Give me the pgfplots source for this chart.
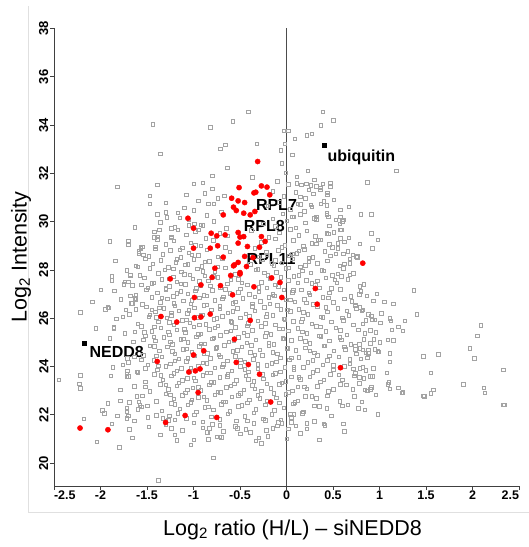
\documentclass[border=0pt]{standalone}
\usepackage{fontspec}
\setmainfont{Liberation Sans}
\usepackage{pgfplots}
\pgfplotsset{compat=1.18}
\begin{document}
\begin{tikzpicture}
\useasboundingbox (0,0) rectangle (529bp,547bp);
\draw[black!12, line width=0.8bp] (28bp,541bp) -- (28bp,35bp) -- (529bp,35bp);
\begin{axis}[
  at={(54bp,61bp)}, anchor=south west,
  scale only axis, width=465bp, height=457.5bp,
  xmin=-2.5, xmax=2.5, ymin=19.05, ymax=38,
  axis lines=left, axis line style={-, black!75, line width=0.8bp},
  tick align=outside, major tick length=4bp,
  tick style={black!75, line width=0.7bp},
  xtick={-2.5,-2,-1.5,-1,-0.5,0,0.5,1,1.5,2,2.5},
  xticklabels={\rlap{\textbf{-2.5}},\textbf{-2},\textbf{-1.5},\textbf{-1},\textbf{-0.5},\textbf{0},\textbf{0.5},\textbf{1},\textbf{1.5},\textbf{2},\llap{\textbf{2.5}}},
  ytick={20,22,24,26,28,30,32,34,36,38},
  yticklabels={\textbf{20},\textbf{22},\textbf{24},\textbf{26},\textbf{28},\textbf{30},\textbf{32},\textbf{34},\textbf{36},\textbf{38}},
  tick label style={font=\fontsize{12.5bp}{14bp}\selectfont},
  yticklabel style={font=\fontsize{13bp}{14bp}\selectfont, rotate=90, anchor=south, inner sep=1.5bp},
  xticklabel style={font=\fontsize{12.5bp}{14bp}\selectfont, anchor=north, inner sep=1bp},
  clip=false,
]
% grey proteins
\addplot[only marks, mark=square, mark size=1.75bp, mark options={draw=black!36, line width=0.45bp}] coordinates {
(-1.44,34.04) (-1.36,32.82) (-1.82,31.45) (-1.39,31.52) (-1.47,31.08) (-1.47,30.75) (-1.08,31.11) (-0.90,31.62) (-1.29,30.19) (-1.17,30.36) (-1.63,29.76) (-1.37,29.67) (-1.24,29.73) (-1.05,29.86) (-0.92,29.87) (-0.95,29.67) (-1.90,29.18) (-1.70,29.07) (-1.57,28.93) (-1.41,28.97) (-1.39,29.38) (-1.24,29.33)
(-0.41,34.56) (-0.58,34.15) (-0.82,33.91) (-0.32,33.22) (-0.66,33.18) (-0.71,33.03) (-0.64,32.24) (-0.80,31.91) (-0.37,31.83) (-0.84,30.74) (-0.78,30.74) (-0.67,31.07) (-1.39,30.31) (-0.99,29.91) (-1.42,29.36) (-1.57,28.90) (-1.59,28.70) (-1.88,27.73) (-1.68,27.78)
(0.39,34.56) (0.50,34.21) (0.37,34.0) (-0.03,33.76) (0.02,33.76) (0.22,33.57) (0.27,33.64) (0.09,33.44) (-0.02,33.22) (-0.06,32.96) (0.06,32.77) (-0.05,32.42) (1.18,32.1) (0.23,32.1) (-0.01,32.03) (0.11,31.87) (0.30,31.73) (0.02,31.55) (0.16,31.52) (0.21,31.57) (0.26,31.5) (0.39,31.57) (0.87,31.64) (0.24,31.32) (0.29,31.15) (0.15,31.04) (0.20,30.97) (0.51,30.9) (0.12,30.74) (0.26,30.70) (0.37,30.74) (0.43,30.68) (0.67,30.62) (0.80,30.31) (0.91,30.31) (0.91,29.52) (0.98,29.26) (0.92,28.89)
(0.15,30.31) (0.06,30.21) (0.32,30.21) (0.43,30.28) (0.45,30.21) (0.53,30.07) (0.58,30.21) (0.61,30.07) (0.57,29.91) (0.36,31.4) (0.44,31.2) (0.47,31.45) (0.11,31.6)
(0.51,29.57) (0.59,29.66) (0.43,29.52) (0.34,29.25) (0.46,29.07) (0.55,29.11) (0.58,29.32) (0.71,28.63) (0.76,28.56) (0.61,28.67) (0.68,28.28) (0.59,27.73) (0.68,27.8) (0.52,27.59)
(-2.18,21.83) (-2.04,20.89) (-1.98,22.18) (-1.96,22.07) (-1.92,22.48) (-1.88,21.63) (-1.82,21.97) (-1.80,20.65) (-1.66,21.05) (-1.69,21.41) (-1.49,21.9) (-1.48,21.5) (-1.36,21.18) (-1.03,20.76) (-0.79,20.23) (-0.84,20.98) (-0.75,21.1) (-0.72,21.1) (-0.27,20.83) (-0.30,21.04) (-0.15,21.45) (0.02,21.42) (0.1,21.54) (0.35,20.97) (0.4,21.63) (0.41,21.56) (0.61,21.63) (0.62,21.31) (0.22,21.66) (0.98,22.03) (0.04,22.03) (0.08,22.03) (1.48,22.76) (2.33,22.41)
(-1.79,22.58) (-1.72,22.28) (-1.69,22.53) (-1.70,21.96) (-1.64,21.76) (-1.60,22.24) (-1.58,22.39) (-1.33,21.86) (-1.30,21.76) (-1.26,21.97) (-1.24,21.45) (-1.20,21.79) (-1.18,20.94) (-1.38,19.28)
(-0.86,21.28) (-0.83,21.45) (-0.72,21.56) (-0.53,21.45) (-0.42,21.75) (-0.39,21.28) (-0.23,21.78) (-0.09,21.7) (-0.05,21.66)
(-2.45,23.45) (-2.22,23.64) (-2.22,23.1) (-2.22,26.24) (-2.09,26.68) (-1.89,23.61) (-1.91,26.44) (-1.86,25.63) (-1.79,23.03) (-1.75,27.4) (-1.68,26.94) (-1.66,26.62) (-1.70,23.59) (-1.71,23.83) (-1.72,22.14) (-1.72,21.86) (-1.61,22.76) (-1.59,22.55) (-1.56,22.34) (-1.63,26.83) (-2.23,23.28)
(-1.85,27.13) (-1.92,26.46) (-1.86,25.59) (-1.74,27.52) (-1.68,27.8) (-1.67,26.63) (-1.62,26.79) (-1.73,26.35) (-1.76,26.07) (-1.62,26.38) (-1.63,25.45) (-1.53,25.41) (-1.54,25.11)
(-1.71,24.35) (-1.64,24.41) (-1.56,24.28) (-1.61,23.79) (-1.52,23.93) (-1.76,24.07) (-1.72,23.7) (-1.52,23.17) (-1.45,26.35) (-1.47,26.14) (-1.51,27.18) (-1.45,27.45) (-1.56,27.38) (-1.6,28.14) (-1.54,28.63) (-1.70,27.52)
(0.76,28.53) (0.83,27.41) (1.37,27.15) (0.78,26.99) (0.86,26.93) (1.05,26.69) (0.74,26.55) (0.75,26.4) (0.79,26.45) (0.82,26.35) (1.40,26.17) (0.88,26.17) (1.11,26.0) (1.12,25.9) (0.92,25.93) (1.27,25.9) (2.09,25.7) (0.9,25.51) (1.13,25.52) (1.25,25.49) (2.05,25.28) (0.94,25.13) (1.09,25.1) (1.15,25.08) (0.74,24.85) (0.78,24.92) (0.74,24.72) (0.79,24.75) (0.82,24.7) (0.88,24.7) (1.97,24.75) (0.85,24.58) (0.88,24.54) (0.98,24.64) (1.11,24.54) (1.63,24.51) (1.47,24.43) (0.87,24.37) (2.02,24.35) (1.11,24.19) (0.82,23.98) (0.79,23.92) (0.85,23.85) (2.33,23.86) (1.08,23.75) (1.55,23.75) (0.78,23.56) (0.92,23.59) (0.78,23.3) (1.09,23.26) (1.90,23.26) (2.12,23.13) (2.13,22.92) (1.58,23.03) (1.55,22.9) (1.24,22.92) (1.47,22.79) (0.96,22.84) (2.34,22.41)
(1.2,23.13) (1.11,23.08) (0.87,23.0) (0.90,23.06) (0.91,26.1) (0.95,25.93) (0.99,24.62) (1.1,23.34) (1.25,22.94) (0.84,22.21) (0.77,22.28) (0.81,22.55) (0.66,22.41) (0.73,22.76) (0.84,23.03) (0.91,23.15) (0.9,23.59)
(-1.2,21.18) (-1.0,20.97) (-0.85,21.27) (-0.7,21.06) (-0.5,21.21) (-0.33,20.92) (-0.2,21.12) (0.0,21.01) (0.15,21.24)
(-1.3,21.58) (-1.12,21.37) (-1.0,21.67) (-0.9,21.46) (-0.8,21.61) (-0.68,21.32) (-0.55,21.52) (-0.44,21.41) (-0.35,21.64) (-0.22,21.35) (-0.1,21.55) (0.05,21.69) (0.22,21.43) (0.4,21.62)
(-1.4,21.98) (-1.27,21.77) (-1.17,22.07) (-1.08,21.86) (-0.99,22.01) (-0.9,21.72) (-0.81,21.92) (-0.72,21.81) (-0.63,22.04) (-0.54,21.75) (-0.45,21.95) (-0.35,22.09) (-0.25,21.83) (-0.16,22.02) (-0.06,21.79) (0.05,21.9) (0.17,22.06) (0.3,21.73) (0.48,21.97)
(-1.5,22.38) (-1.34,22.17) (-1.24,22.47) (-1.15,22.26) (-1.06,22.41) (-0.97,22.12) (-0.88,22.32) (-0.79,22.21) (-0.7,22.44) (-0.61,22.15) (-0.52,22.35) (-0.42,22.49) (-0.33,22.23) (-0.23,22.42) (-0.13,22.19) (-0.03,22.3) (0.07,22.46) (0.18,22.13) (0.3,22.37) (0.43,22.28) (0.6,22.38)
(-1.55,22.78) (-1.4,22.57) (-1.3,22.87) (-1.21,22.66) (-1.12,22.81) (-1.03,22.52) (-0.95,22.72) (-0.86,22.61) (-0.77,22.84) (-0.68,22.55) (-0.59,22.75) (-0.5,22.89) (-0.4,22.63) (-0.31,22.82) (-0.21,22.59) (-0.11,22.7) (-0.01,22.86) (0.09,22.53) (0.2,22.77) (0.32,22.68) (0.44,22.78) (0.57,22.57)
(-1.64,23.18) (-1.47,22.97) (-1.36,23.27) (-1.27,23.06) (-1.18,23.21) (-1.09,22.92) (-1.01,23.12) (-0.92,23.01) (-0.83,23.24) (-0.74,22.95) (-0.65,23.15) (-0.56,23.29) (-0.46,23.03) (-0.37,23.22) (-0.27,22.99) (-0.17,23.1) (-0.08,23.26) (0.02,22.93) (0.12,23.17) (0.22,23.08) (0.33,23.18) (0.45,22.97) (0.58,23.27) (0.71,23.06)
(-1.72,23.58) (-1.52,23.37) (-1.42,23.67) (-1.33,23.46) (-1.24,23.61) (-1.16,23.32) (-1.07,23.52) (-0.98,23.41) (-0.9,23.64) (-0.81,23.35) (-0.72,23.55) (-0.63,23.69) (-0.54,23.43) (-0.44,23.62) (-0.35,23.39) (-0.25,23.5) (-0.15,23.66) (-0.05,23.33) (0.05,23.57) (0.15,23.48) (0.25,23.58) (0.36,23.37) (0.47,23.67) (0.6,23.46) (0.73,23.61)
(-1.87,23.98) (-1.6,23.77) (-1.49,24.07) (-1.39,23.86) (-1.3,24.01) (-1.21,23.72) (-1.13,23.92) (-1.04,23.81) (-0.95,24.04) (-0.86,23.75) (-0.77,23.95) (-0.68,24.09) (-0.59,23.83) (-0.5,24.02) (-0.41,23.79) (-0.31,23.9) (-0.21,24.06) (-0.12,23.73) (-0.02,23.97) (0.08,23.88) (0.18,23.98) (0.28,23.77) (0.39,24.07) (0.5,23.86) (0.62,24.01) (0.74,23.72) (0.93,23.92)
(-1.7,24.17) (-1.54,24.47) (-1.43,24.26) (-1.34,24.41) (-1.25,24.12) (-1.16,24.32) (-1.08,24.21) (-0.99,24.44) (-0.9,24.15) (-0.82,24.35) (-0.73,24.49) (-0.64,24.23) (-0.55,24.42) (-0.45,24.19) (-0.36,24.3) (-0.26,24.46) (-0.16,24.13) (-0.07,24.37) (0.03,24.28) (0.13,24.38) (0.23,24.17) (0.33,24.47) (0.44,24.26) (0.56,24.41) (0.68,24.12) (0.8,24.32)
(-1.47,24.87) (-1.37,24.66) (-1.28,24.81) (-1.2,24.52) (-1.11,24.72) (-1.02,24.61) (-0.94,24.84) (-0.85,24.55) (-0.76,24.75) (-0.67,24.89) (-0.58,24.63) (-0.48,24.82) (-0.39,24.59) (-0.29,24.7) (-0.19,24.86) (-0.1,24.53) (0.0,24.77) (0.1,24.68) (0.2,24.78) (0.3,24.57) (0.4,24.87) (0.51,24.66) (0.62,24.81) (0.75,24.52) (0.95,24.72)
(-1.9,25.18) (-1.65,25.02) (-1.52,25.27) (-1.41,25.06) (-1.32,25.21) (-1.23,24.92) (-1.14,25.12) (-1.06,25.01) (-0.97,25.24) (-0.88,24.95) (-0.8,25.15) (-0.71,25.29) (-0.62,25.03) (-0.52,25.22) (-0.43,24.99) (-0.33,25.1) (-0.23,25.26) (-0.14,24.93) (-0.04,25.17) (0.05,25.08) (0.15,25.18) (0.25,24.97) (0.35,25.27) (0.46,25.06) (0.57,25.21) (0.69,24.92) (0.83,25.12) (1.0,25.01)
(-2.05,25.58) (-1.74,25.37) (-1.56,25.67) (-1.45,25.46) (-1.35,25.61) (-1.26,25.32) (-1.18,25.52) (-1.09,25.41) (-1.0,25.64) (-0.92,25.35) (-0.83,25.55) (-0.74,25.69) (-0.65,25.43) (-0.55,25.62) (-0.46,25.39) (-0.37,25.5) (-0.27,25.66) (-0.17,25.33) (-0.08,25.57) (0.02,25.48) (0.12,25.58) (0.22,25.37) (0.32,25.67) (0.42,25.46) (0.53,25.61) (0.65,25.32) (0.77,25.52) (0.96,25.41) (1.2,25.64)
(-1.83,25.98) (-1.6,25.77) (-1.48,26.07) (-1.38,25.86) (-1.29,26.01) (-1.21,25.72) (-1.12,25.92) (-1.04,25.81) (-0.95,26.04) (-0.87,25.75) (-0.78,25.95) (-0.69,26.09) (-0.59,25.83) (-0.5,26.02) (-0.41,25.79) (-0.31,25.9) (-0.22,26.06) (-0.12,25.73) (-0.03,25.97) (0.07,25.88) (0.17,25.98) (0.27,25.77) (0.37,26.07) (0.48,25.86) (0.6,26.01) (0.72,25.72) (0.85,25.92) (1.01,25.81)
(-1.95,26.38) (-1.69,26.17) (-1.51,26.47) (-1.41,26.26) (-1.32,26.41) (-1.24,26.12) (-1.16,26.32) (-1.07,26.21) (-0.99,26.44) (-0.9,26.15) (-0.81,26.35) (-0.72,26.49) (-0.63,26.23) (-0.53,26.42) (-0.44,26.19) (-0.34,26.3) (-0.24,26.46) (-0.15,26.13) (-0.06,26.37) (0.04,26.28) (0.13,26.38) (0.23,26.17) (0.33,26.47) (0.44,26.26) (0.55,26.41) (0.67,26.12) (0.81,26.32) (1.02,26.21)
(-1.78,26.78) (-1.55,26.57) (-1.45,26.87) (-1.36,26.66) (-1.28,26.81) (-1.2,26.52) (-1.11,26.72) (-1.03,26.61) (-0.94,26.84) (-0.86,26.55) (-0.77,26.75) (-0.68,26.89) (-0.58,26.63) (-0.47,26.82) (-0.37,26.59) (-0.28,26.7) (-0.19,26.86) (-0.1,26.53) (-0.01,26.77) (0.09,26.68) (0.19,26.78) (0.29,26.57) (0.39,26.87) (0.5,26.66) (0.62,26.81) (0.74,26.52) (0.93,26.72) (1.15,26.61)
(-2.0,27.18) (-1.62,26.97) (-1.49,27.27) (-1.39,27.06) (-1.3,27.21) (-1.22,26.92) (-1.14,27.12) (-1.06,27.01) (-0.97,27.24) (-0.89,26.95) (-0.8,27.15) (-0.71,27.29) (-0.61,27.03) (-0.5,27.22) (-0.4,26.99) (-0.3,27.1) (-0.21,27.26) (-0.13,26.93) (-0.03,27.17) (0.06,27.08) (0.16,27.18) (0.25,26.97) (0.35,27.27) (0.46,27.06) (0.58,27.21) (0.69,26.92) (0.8,27.12) (0.97,27.01)
(-1.88,27.58) (-1.66,27.37) (-1.53,27.67) (-1.43,27.46) (-1.34,27.61) (-1.26,27.32) (-1.18,27.52) (-1.09,27.41) (-1.01,27.64) (-0.93,27.35) (-0.84,27.55) (-0.74,27.69) (-0.64,27.43) (-0.52,27.62) (-0.42,27.39) (-0.27,27.5) (-0.18,27.66) (-0.09,27.33) (0.02,27.57) (0.12,27.48) (0.21,27.58) (0.31,27.37) (0.42,27.67) (0.54,27.46) (0.66,27.61) (0.79,27.32)
(-1.72,27.98) (-1.58,27.77) (-1.47,28.07) (-1.38,27.86) (-1.31,28.01) (-1.22,27.72) (-1.13,27.92) (-1.04,27.81) (-0.96,28.04) (-0.88,27.75) (-0.77,27.95) (-0.66,28.09) (-0.55,27.83) (-0.31,28.02) (-0.2,27.79) (-0.11,27.9) (-0.01,28.06) (0.08,27.73) (0.17,27.97) (0.26,27.88) (0.38,27.98) (0.49,27.77) (0.61,28.07) (0.72,27.86)
(-1.84,28.38) (-1.62,28.17) (-1.52,28.47) (-1.44,28.26) (-1.35,28.41) (-1.27,28.12) (-1.19,28.32) (-1.09,28.21) (-1.0,28.44) (-0.91,28.15) (-0.83,28.35) (-0.69,28.49) (-0.39,28.23) (-0.26,28.42) (-0.14,28.19) (-0.05,28.3) (0.06,28.46) (0.15,28.13) (0.24,28.37) (0.33,28.28) (0.44,28.38) (0.57,28.17) (0.68,28.47)
(-1.59,28.78) (-1.48,28.57) (-1.41,28.87) (-1.33,28.66) (-1.25,28.81) (-1.14,28.52) (-1.05,28.72) (-0.95,28.61) (-0.86,28.84) (-0.74,28.55) (-0.61,28.75) (-0.34,28.89) (-0.21,28.63) (-0.09,28.82) (0.03,28.59) (0.11,28.7) (0.19,28.86) (0.28,28.53) (0.41,28.77) (0.53,28.68) (0.66,28.78) (0.75,28.57)
(-1.7,29.18) (-1.55,28.97) (-1.39,29.27) (-1.3,29.06) (-1.21,29.21) (-1.12,28.92) (-1.03,29.12) (-0.92,29.01) (-0.79,29.24) (-0.66,28.95) (-0.27,29.15) (-0.12,29.29) (-0.02,29.03) (0.07,29.22) (0.18,28.99) (0.27,29.1) (0.36,29.26) (0.49,28.93) (0.62,29.17) (0.79,29.08)
(-1.42,29.58) (-1.24,29.37) (-1.17,29.67) (-1.08,29.46) (-0.98,29.61) (-0.87,29.32) (-0.72,29.52) (-0.63,29.41) (-0.38,29.64) (-0.19,29.35) (-0.08,29.55) (0.04,29.69) (0.13,29.43) (0.22,29.62) (0.31,29.39) (0.45,29.5) (0.58,29.66) (0.67,29.33)
(-1.36,29.98) (-1.2,29.77) (-1.05,30.07) (-0.9,29.86) (-0.78,30.01) (-0.65,29.72) (-0.25,29.92) (-0.12,29.81) (0.0,30.04) (0.1,29.75) (0.2,29.95) (0.32,30.09) (0.46,29.83) (0.6,30.02)
(-1.3,30.38) (-1.15,30.17) (-1.0,30.47) (-0.86,30.26) (-0.7,30.41) (-0.15,30.12) (-0.04,30.32) (0.08,30.21) (0.19,30.44) (0.3,30.15) (0.43,30.35) (0.58,30.49)
(-1.3,30.78) (-1.1,30.57) (-0.95,30.87) (-0.2,30.66) (-0.08,30.81) (0.04,30.52) (0.15,30.72) (0.27,30.61) (0.4,30.84)
(-0.88,31.18) (-0.74,30.97) (-0.15,31.27) (-0.03,31.06) (0.1,31.21) (0.36,31.32) (0.44,31.12)
(-1.0,31.58) (-0.8,31.37) (-0.1,31.67) (0.32,31.46) (0.47,31.61)
(-1.2,22.44) (-1.02,22.63) (-0.84,22.34) (-0.66,22.54) (-0.48,22.4) (-0.29,22.68) (-0.08,22.49) (0.12,22.59) (0.35,22.36)
(-1.25,22.84) (-1.07,23.03) (-0.89,22.74) (-0.71,22.94) (-0.52,22.8) (-0.34,23.08) (-0.14,22.89) (0.06,22.99) (0.27,22.76) (0.5,23.05)
(-1.3,23.24) (-1.12,23.43) (-0.95,23.14) (-0.78,23.34) (-0.6,23.2) (-0.41,23.48) (-0.21,23.29) (-0.01,23.39) (0.19,23.16) (0.4,23.45) (0.64,23.25)
(-1.35,23.64) (-1.18,23.83) (-1.0,23.54) (-0.82,23.74) (-0.64,23.6) (-0.45,23.88) (-0.26,23.69) (-0.07,23.79) (0.13,23.56) (0.33,23.85) (0.56,23.65) (0.83,23.51)
(-1.38,24.04) (-1.2,24.23) (-1.03,23.94) (-0.86,24.14) (-0.69,24.0) (-0.5,24.28) (-0.31,24.09) (-0.11,24.19) (0.08,23.96) (0.28,24.25) (0.5,24.05) (0.72,23.91)
(-1.4,24.44) (-1.23,24.63) (-1.06,24.34) (-0.89,24.54) (-0.71,24.4) (-0.53,24.68) (-0.34,24.49) (-0.15,24.59) (0.05,24.36) (0.25,24.65) (0.46,24.45) (0.68,24.31) (0.88,24.57)
(-1.42,24.84) (-1.25,25.03) (-1.08,24.74) (-0.92,24.94) (-0.75,24.8) (-0.57,25.08) (-0.38,24.89) (-0.19,24.99) (0.01,24.76) (0.2,25.05) (0.41,24.85) (0.63,24.71) (0.9,24.97)
(-1.43,25.24) (-1.27,25.43) (-1.11,25.14) (-0.95,25.34) (-0.78,25.2) (-0.6,25.48) (-0.42,25.29) (-0.22,25.39) (-0.03,25.16) (0.17,25.45) (0.37,25.25) (0.59,25.11) (0.84,25.37)
(-1.42,25.64) (-1.26,25.83) (-1.1,25.54) (-0.94,25.74) (-0.77,25.6) (-0.6,25.88) (-0.42,25.69) (-0.23,25.79) (-0.04,25.56) (0.16,25.85) (0.36,25.65) (0.58,25.51) (0.82,25.77)
(-1.4,26.04) (-1.24,26.23) (-1.08,25.94) (-0.92,26.14) (-0.75,26.0) (-0.58,26.28) (-0.4,26.09) (-0.21,26.19) (-0.02,25.96) (0.18,26.25) (0.39,26.05) (0.61,25.91) (0.88,26.17)
(-1.37,26.44) (-1.21,26.63) (-1.05,26.34) (-0.89,26.54) (-0.72,26.4) (-0.55,26.68) (-0.37,26.49) (-0.18,26.59) (0.01,26.36) (0.21,26.65) (0.42,26.45) (0.65,26.31)
(-1.34,26.84) (-1.18,27.03) (-1.02,26.74) (-0.86,26.94) (-0.69,26.8) (-0.52,27.08) (-0.34,26.89) (-0.15,26.99) (0.04,26.76) (0.24,27.05) (0.45,26.85) (0.7,26.71)
(-1.3,27.24) (-1.14,27.43) (-0.98,27.14) (-0.82,27.34) (-0.66,27.2) (-0.48,27.48) (-0.3,27.29) (-0.12,27.39) (0.07,27.16) (0.27,27.45) (0.48,27.25)
(-1.26,27.64) (-1.1,27.83) (-0.94,27.54) (-0.79,27.74) (-0.6,27.6) (-0.24,27.88) (-0.06,27.69) (0.13,27.79) (0.33,27.56) (0.55,27.85)
(-1.22,28.04) (-1.06,28.23) (-0.9,27.94) (-0.74,28.14) (-0.33,28.0) (-0.16,28.28) (0.02,28.09) (0.2,28.19) (0.4,27.96) (0.62,28.25)
(-1.18,28.44) (-1.02,28.63) (-0.88,28.34) (-0.3,28.54) (-0.12,28.4) (0.06,28.68) (0.24,28.49) (0.47,28.59)
(-1.15,28.84) (-0.98,29.03) (-0.22,28.74) (-0.05,28.94) (0.13,28.8) (0.32,29.08) (0.55,28.89)
};
% zero line
\addplot[black!70, line width=0.8bp] coordinates {(0,19.05) (0,38)};
% ribosomal proteins
\addplot[only marks, mark=*, mark size=2.6bp, mark options={draw=red, fill=red}] coordinates {
(-2.22,21.45) (-1.92,21.38) (-1.30,21.68) (-1.09,21.97) (-0.75,21.89) (-0.95,22.92) (-1.05,23.77) (-0.98,23.82) (-0.93,23.90) (-1.00,24.48) (-0.89,24.65) (-1.39,24.21) (-0.54,24.17) (-0.41,24.08) (-0.29,23.68) (-0.56,25.13) (-1.35,26.07) (-1.18,25.84) (-0.99,26.02) (-0.92,26.05) (-0.82,26.17) (-0.39,25.91) (-0.99,26.86) (-0.58,26.97) (-0.92,27.38) (-0.71,27.35) (-0.35,27.30) (-1.25,27.63) (-0.80,27.69) (-0.60,27.77) (-0.50,27.83) (-0.16,27.67) (-0.07,27.48) (-0.05,26.86) (0.31,27.23) (0.33,26.58) (0.58,23.95) (-0.17,22.53) (0.82,28.28)
(-0.77,28.07) (-0.57,28.17) (-0.56,28.21) (-0.52,28.31) (-0.45,28.56) (-0.68,28.53)
(-0.31,32.49) (-0.51,31.41) (-0.27,31.48) (-0.21,31.43) (-0.35,31.19) (-0.33,31.22) (-0.18,31.11) (-0.59,30.97) (-0.52,30.86) (-0.45,30.79) (-0.57,30.60) (-0.54,30.46) (-0.46,30.35) (-0.39,30.28) (-0.34,30.42) (-0.68,30.28) (-1.06,30.14) (-1.00,29.73) (-0.81,29.52) (-0.66,29.45) (-0.52,29.55) (-0.50,29.36) (-0.46,29.38) (-0.27,29.38) (-0.23,29.18) (-0.52,29.11) (-0.42,28.97) (-0.74,29.00) (-0.75,29.41) (-0.82,28.90) (-1.00,28.90) (-0.29,28.94) (-0.36,28.51) (-0.43,28.14) (-0.50,27.89)
};
% highlighted proteins
\addplot[only marks, mark=square*, mark size=2bp, mark options={draw=black, fill=black}] coordinates {(0.40,33.15) (-2.17,24.97)};
\node[anchor=base west, inner sep=0pt, font=\fontsize{16bp}{18bp}\selectfont\bfseries] at (axis cs:0.44,32.49) {ubiquitin};
\node[anchor=base west, inner sep=0pt, font=\fontsize{16bp}{18bp}\selectfont\bfseries] at (axis cs:-2.12,24.39) {NEDD8};
\node[anchor=base west, inner sep=0pt, font=\fontsize{16bp}{18bp}\selectfont\bfseries] at (axis cs:-0.33,30.45) {RPL7};
\node[anchor=base west, inner sep=0pt, font=\fontsize{16bp}{18bp}\selectfont\bfseries] at (axis cs:-0.46,29.59) {RPL8};
\node[anchor=base west, inner sep=0pt, font=\fontsize{16bp}{18bp}\selectfont\bfseries] at (axis cs:-0.43,28.21) {RPL11};
\end{axis}
\node[rotate=90, anchor=base, inner sep=0pt, font=\fontsize{21.5bp}{24bp}\selectfont] at (26.5bp,290bp) {Log\textsubscript{2} Intensity};
\node[anchor=base, inner sep=0pt, font=\fontsize{21.5bp}{24bp}\selectfont] at (292.5bp,12bp) {Log\textsubscript{2} ratio (H/L) – siNEDD8};
\end{tikzpicture}
\end{document}
